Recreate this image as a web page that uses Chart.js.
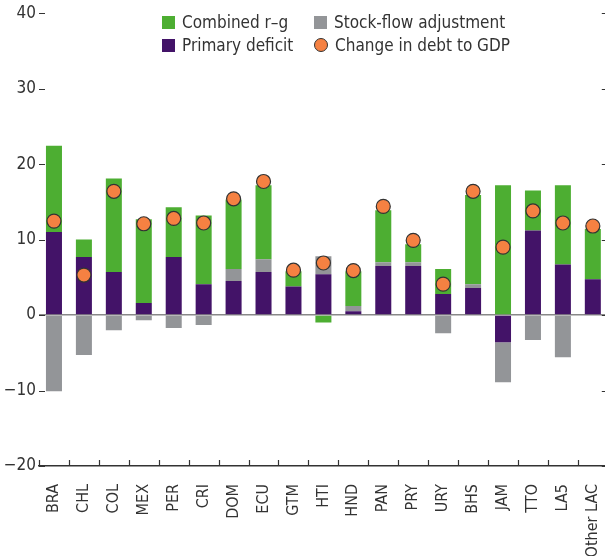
<!DOCTYPE html>
<html>
<head>
<meta charset="utf-8">
<script src="https://cdn.jsdelivr.net/npm/chart.js@4"></script>
<style>
  html, body { margin: 0; padding: 0; background: #fff; overflow: hidden; }
  #wrap { position: relative; width: 605px; height: 556px; overflow: hidden; }
  canvas { position: absolute; left: 0; top: 0; }
  .key { position: absolute; display: flex; align-items: center; height: 18px;
         font-family: 'Liberation Sans Narrow', 'DejaVu Sans Condensed', sans-serif;
         font-size: 17px; color: #333; white-space: nowrap; }
  .sw { width: 13px; height: 13px; margin-right: 7px; }
  .dot { width: 12px; height: 12px; border-radius: 50%; border: 1.2px solid #333; background: #f58142; margin-right: 7px; }
</style>
</head>
<body>
<div id="wrap">
  <canvas id="myChart" width="616" height="556"></canvas>
  <div class="key" style="left:162px;top:13px"><span class="sw" style="background:#4dae32"></span>Combined r–g</div>
  <div class="key" style="left:314px;top:13px"><span class="sw" style="background:#939598"></span>Stock-flow adjustment</div>
  <div class="key" style="left:162px;top:36px"><span class="sw" style="background:#431368"></span>Primary deficit</div>
  <div class="key" style="left:314px;top:36px"><span class="dot"></span>Change in debt to GDP</div>
</div>
<script>
const countries = ['BRA','CHL','COL','MEX','PER','CRI','DOM','ECU','GTM','HTI','HND','PAN','PRY','URY','BHS','JAM','TTO','LA5','Other LAC'];
const primaryDeficit = [11.0, 7.7, 5.7, 1.6, 7.7, 4.1, 4.5, 5.7, 3.8, 5.4, 0.5, 6.5, 6.5, 2.8, 3.6, -3.6, 11.2, 6.7, 4.75];
const stockFlow = [-10.1, -5.3, -2.0, -0.7, -1.7, -1.3, 1.6, 1.7, 0, 2.4, 0.7, 0.5, 0.5, -2.4, 0.5, -5.3, -3.3, -5.6, 0];
const combinedRG = [11.45, 2.3, 12.4, 11.1, 6.6, 9.1, 9.2, 9.8, 2.0, -1.0, 4.6, 6.9, 2.4, 3.3, 11.8, 17.2, 5.3, 10.5, 6.65];
const debtChange = [12.45, 5.3, 16.4, 12.1, 12.8, 12.2, 15.4, 17.7, 5.95, 6.9, 5.9, 14.4, 9.9, 4.1, 16.4, 9.0, 13.8, 12.2, 11.8];
const yTicks = [-20, -10, 0, 10, 20, 30, 40];

const font = "'Liberation Sans Narrow', 'DejaVu Sans Condensed', sans-serif";

// short tick marks pointing into the plot
const innerTicks = {
  id: 'innerTicks',
  afterDraw(chart) {
    const {ctx, chartArea: a, scales: {x, y}} = chart;
    ctx.save();
    ctx.strokeStyle = '#333';
    ctx.lineWidth = 1.2;
    ctx.beginPath();
    yTicks.forEach(v => {
      const py = Math.round(y.getPixelForValue(v)) + 0.5;
      ctx.moveTo(a.left, py); ctx.lineTo(a.left + 6, py);
      ctx.moveTo(a.right - 6, py); ctx.lineTo(a.right, py);
    });
    const step = x.getPixelForValue(1) - x.getPixelForValue(0);
    for (let i = 0; i <= countries.length; i++) {
      const px = Math.round(x.getPixelForValue(0) - step / 2 + i * step) + 0.5;
      ctx.moveTo(px, a.bottom); ctx.lineTo(px, a.bottom - 6);
    }
    ctx.stroke();
    ctx.restore();
  }
};

const ctx = document.getElementById('myChart').getContext('2d');
const chart = new Chart(ctx, {
  type: 'bar',
  data: {
    labels: countries,
    datasets: [
      {
        type: 'line',
        label: 'Change in debt to GDP',
        data: debtChange,
        showLine: false,
        pointRadius: 7,
        pointBackgroundColor: '#f58142',
        pointBorderColor: '#333',
        pointBorderWidth: 1.2,
        stack: 'dots',
        order: 0
      },
      { label: 'Primary deficit', data: primaryDeficit, backgroundColor: '#431368', stack: 'a', order: 1 },
      { label: 'Stock-flow adjustment', data: stockFlow, backgroundColor: '#939598', stack: 'a', order: 1 },
      { label: 'Combined r–g', data: combinedRG, backgroundColor: '#4dae32', stack: 'a', order: 1 }
    ]
  },
  options: {
    responsive: false,
    animation: false,
    categoryPercentage: 0.535,
    barPercentage: 1,
    layout: { padding: { top: 12, left: 0, right: 0, bottom: 0 } },
    scales: {
      x: {
        stacked: true,
        grid: { display: false },
        border: { display: true, color: '#333', width: 1.5 },
        ticks: {
          minRotation: 90, maxRotation: 90, autoSkip: false, padding: 10,
          color: '#333', font: { family: font, size: 16 }
        },
        afterFit(s) { s.height = 90; s.paddingLeft = 0; s.paddingRight = 0; }
      },
      y: {
        stacked: true,
        min: -20, max: 40,
        border: { display: false },
        grid: {
          drawTicks: false,
          color: c => c.tick.value === 0 ? '#888' : 'rgba(0,0,0,0)',
          lineWidth: c => c.tick.value === 0 ? 1.5 : 0
        },
        ticks: {
          stepSize: 10, padding: 3, color: '#333',
          font: { family: font, size: 17 },
          callback: v => v < 0 ? '\u2212' + Math.abs(v) : String(v)
        },
        afterFit(s) { s.width = 39; }
      }
    },
    plugins: {
      legend: { display: false },
      tooltip: { enabled: false }
    }
  },
  plugins: [innerTicks]
});
</script>
</body>
</html>
